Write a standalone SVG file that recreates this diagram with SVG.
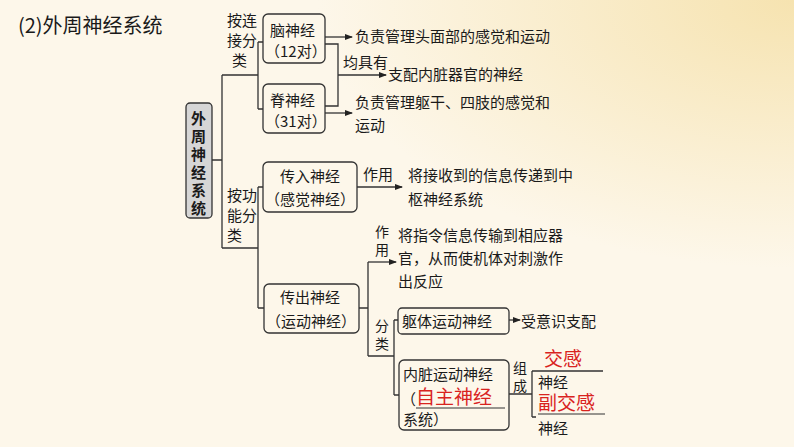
<svg xmlns="http://www.w3.org/2000/svg" width="794" height="447" viewBox="0 0 794 447">
<defs>
<marker id="ar" markerWidth="8" markerHeight="6" refX="7" refY="3" orient="auto" markerUnits="userSpaceOnUse"><path d="M0,0 L8,3 L0,6 Z" fill="#222"/></marker>
<radialGradient id="bg" cx="1" cy="0" r="0.6"><stop offset="0" stop-color="#f6e3b0"/><stop offset="1" stop-color="#fdf7ea"/></radialGradient>
</defs>
<style>
text{font-family:"Noto Sans CJK SC","Noto Sans",sans-serif;font-size:15px;fill:#1a1a1a}
.v{font-size:14px}
.box{fill:none;stroke:#333;stroke-width:1.3}
.c{fill:none;stroke:#333;stroke-width:1.3}
.red{fill:#d9231e;font-size:19px}
.ul{stroke:#333;stroke-width:1.2}
</style>
<rect width="794" height="447" fill="#fdf7ea"/>
<rect width="794" height="447" fill="url(#bg)"/>
<text x="18" y="33" style="font-size:20px">(2)外周神经系统</text>

<g id="connectors">
<path class="c" d="M212,160 H222 M222,75 V248 M222,75 H258 M258,42 V109 M258,42 H263 M258,109 H263"/>
<path class="c" d="M222,248 H258 M258,187 V308 M258,187 H263 M258,308 H264"/>
<path class="c" d="M325,37 H352" marker-end="url(#ar)"/>
<path class="c" d="M325,44 H338 V106 H325"/>
<path class="c" d="M338,75 H386" marker-end="url(#ar)"/>
<path class="c" d="M325,113 H352" marker-end="url(#ar)"/>
<path class="c" d="M357,187 H402" marker-end="url(#ar)"/>
<path class="c" d="M359,308 H368 M368,262 V356 M368,356 H394 M394,320 V395 M394,320 H398 M394,395 H399"/>
<path class="c" d="M368,262 H396" marker-end="url(#ar)"/>
<path class="c" d="M509,320 H520" marker-end="url(#ar)"/>
<path class="c" d="M509,394 H532 M532,371 V417 M532,371 H603 M532,417 H536"/>
</g>

<g id="root"><rect x="186" y="103" width="26" height="115" rx="4" fill="#d6d6d6" stroke="#333" stroke-width="1.3"/>
<g style="font-weight:bold"><text x="191" y="124">外</text><text x="191" y="142">周</text><text x="191" y="160">神</text><text x="191" y="178">经</text><text x="191" y="196">系</text><text x="191" y="214">统</text></g></g>

<g id="lbl1"><text x="227" y="26">按连</text><text x="227" y="46">接分</text><text x="232" y="66">类</text></g>
<g id="naoshenjing"><rect class="box" x="263" y="14" width="62" height="49" rx="5"/><text x="270" y="36">脑神经</text><text x="265" y="57">（12对）</text></g>
<g id="jishenjing"><rect class="box" x="263" y="84" width="62" height="49" rx="5"/><text x="270" y="106">脊神经</text><text x="265" y="127">（31对）</text></g>
<text x="355" y="42">负责管理头面部的感觉和运动</text>
<text x="343" y="68">均具有</text>
<text x="388" y="80">支配内脏器官的神经</text>
<text x="355" y="108">负责管理躯干、四肢的感觉和</text>
<text x="355" y="131">运动</text>

<g id="lbl2"><text x="227" y="201">按功</text><text x="227" y="221">能分</text><text x="227" y="241">类</text></g>
<g id="chuanru"><rect class="box" x="263" y="162" width="94" height="50" rx="5"/><text x="280" y="182">传入神经</text><text x="265" y="205">（感觉神经）</text></g>
<text x="363" y="180">作用</text>
<text x="408" y="181">将接收到的信息传递到中</text>
<text x="408" y="205">枢神经系统</text>

<g id="chuanchu"><rect class="box" x="264" y="284" width="95" height="49" rx="5"/><text x="280" y="303">传出神经</text><text x="266" y="327">（运动神经）</text></g>
<text class="v" x="375" y="237">作</text><text class="v" x="375" y="255">用</text>
<text x="398" y="241">将指令信息传输到相应器</text>
<text x="398" y="264">官，从而使机体对刺激作</text>
<text x="398" y="287">出反应</text>
<text class="v" x="375" y="331">分</text><text class="v" x="375" y="349">类</text>

<g id="quti"><rect class="box" x="398" y="308" width="111" height="26" rx="4"/><text x="402" y="327">躯体运动神经</text></g>
<text x="521" y="327">受意识支配</text>
<g id="neizang"><rect class="box" x="399" y="360" width="110" height="70" rx="5"/><text x="403" y="380">内脏运动神经</text><text x="401" y="405">（</text><text class="red" x="416" y="404">自主神经</text><line class="ul" x1="416" y1="408" x2="505" y2="408"/><text x="403" y="425">系统）</text></g>
<text class="v" x="513" y="373">组</text><text class="v" x="513" y="391">成</text>
<text class="red" x="544" y="366">交感</text>
<text x="538" y="388">神经</text>
<text class="red" x="538" y="410">副交感</text><line class="ul" x1="538" y1="414" x2="605" y2="414"/>
<text x="538" y="434">神经</text>
</svg>
